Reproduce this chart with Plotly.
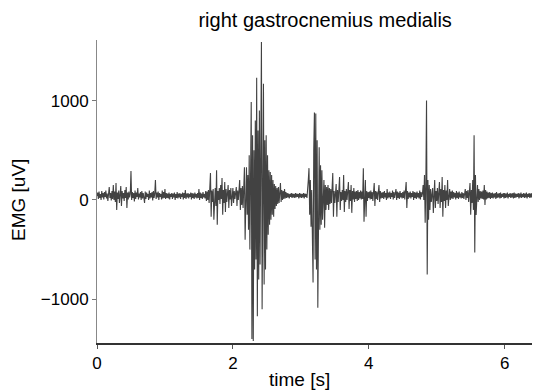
import plotly.graph_objects as go

# EMG samples (uV), one value every 0.01 s
sample_step_s = 0.01

emg_0s = [
    40, 75, 10, 85, 20, 60, 0, 90, 25, 70,
    5, 80, 30, 95, 15, 65, -10, 80, 130, 20,
    70, -5, 90, 10, 150, 0, 85, -20, 170, -100,
    75, 10, 95, -30, 80, 140, -60, 90, 15, 70,
    -10, 100, 20, 130, -80, 75, 5, 85, 25, 60,
    290, 0, 80, 20, 70, -15, 95, 10, 75, 30,
    120, 5, 65, 25, 80, 0, 90, 15, 70, 20,
    -30, 85, 10, 75, 30, 60, 0, 95, 15, 70,
    25, 80, -5, 90, 20, 65, 200, 10, 75, 25,
    85, 0, 70, 30, 60, 5, 95, 15, 80, 20,
]
emg_1s = [
    110, 10, 70, 20, 65, 15, 75, 5, 60, 30,
    70, 10, 65, 25, 75, 0, 60, 20, 80, 15,
    65, 25, 70, 10, 60, 30, 75, 5, 70, 20,
    100, 10, 65, 25, 70, 15, 60, 30, 75, 5,
    70, 20, 65, 10, 75, 25, 60, 15, 70, 20,
    110, 0, 75, 20, 65, 10, 80, 25, 60, 15,
    90, -10, 85, 0, 100, -30, 80, 270, -170, 95,
    -20, 110, -200, 60, 120, -60, 300, -250, 90, 0,
    120, -40, 150, 10, 220, -150, 100, -30, 180, -120,
    110, -20, 90, 150, -80, 100, 5, 120, -60, 95,
]
emg_2s = [
    120, -30, 90, 10, 110, 130, -60, 95, 0, 100,
    200, -100, 120, -50, 140, -80, 160, 330, -400, 200,
    330, -150, 250, -300, 450, -500, 600, 985, -1400, 650,
    -1420, 500, -700, 800, -600, 1230, -1170, 700, -800, 900,
    -650, 750, 1590, -1100, 800, 1170, -850, 600, -700, 650,
    -500, 450, -350, 300, -250, 280, -200, 250, -150, 200,
    -170, 160, -90, 140, -60, 120, -40, 130, -30, 110,
    170, -20, 100, 0, 90, 10, 110, 15, 80, 20,
    70, 25, 65, 15, 60, 30, 70, 20, 65, 25,
    60, 20, 70, 25, 65, 30, 60, 15, 70, 25,
]
emg_3s = [
    65, 20, 60, 25, 70, 15, 65, 30, 60, 20,
    90, 200, 320, -150, 200, -270, 100, -300, -830, 500,
    880, -600, 870, -700, 600, -1085, 400, 530, -300, 350,
    -250, 300, -200, 180, 200, -280, 150, -100, 130, -50,
    150, -100, 120, -40, 110, -30, 100, 270, -170, 90,
    -30, 110, 160, -170, 100, -20, 90, 230, -100, 80,
    -10, 100, 0, 250, -120, 90, -20, 110, 0, 85,
    180, -90, 100, -10, 150, -130, 90, 5, 120, -20,
    85, 10, 90, -10, 100, 0, 80, 15, 95, 5,
    85, 10, 320, -220, 100, 200, -170, 90, -10, 80,
]
emg_4s = [
    20, 85, 5, 95, 10, 80, -10, 100, 170, -60,
    90, 10, 85, 0, 95, 150, -20, 90, 15, 75,
    20, 80, 10, 90, 25, 70, 0, 110, 15, 75,
    25, 85, 10, 70, 30, 95, 5, 80, 20, 65,
    110, 0, 85, 20, 75, 10, 90, 25, 70, 15,
    80, 20, 95, 5, 85, 180, -80, 90, 10, 75,
    25, 85, 15, 70, 30, 90, 0, 80, 20, 75,
    10, 85, 25, 70, 15, 95, 5, 80, 30, 65,
    150, 0, 250, -230, 150, 1000, -750, 200, -200, 150,
    -100, 110, -20, 90, 120, -130, 100, 200, -80, 90,
]
emg_5s = [
    -10, 120, -40, 100, 180, -80, 110, -20, 230, -170,
    100, -10, 150, -80, 95, 0, 200, -60, 90, 110,
    0, 85, 15, 95, 10, 80, 25, 70, 5, 90,
    20, 75, 10, 85, 25, 65, 15, 80, 20, 70,
    10, 85, 110, 0, 90, 20, 100, -20, 110, 170,
    -150, 100, -30, 200, -100, 650, -530, 250, -150, 100,
    150, -20, 110, 0, 90, 15, 85, 10, 95, 5,
    150, -50, 100, 5, 85, 15, 75, 20, 80, 10,
    70, 20, 75, 15, 65, 25, 70, 10, 80, 20,
    65, 25, 70, 15, 75, 20, 60, 30, 70, 15,
]
emg_6s = [
    70, 20, 65, 25, 75, 15, 60, 30, 70, 20,
    65, 25, 70, 15, 75, 20, 65, 25, 60, 30,
    70, 15, 65, 25, 75, 20, 60, 30, 70, 20,
    65, 25, 75, 15, 60, 30, 70, 20, 65, 25,
    70, 15, 75, 20, 60, 30, 65, 25, 70, 20,
    65, 25, 70, 15, 75, 20,
]

x_tick_values = [0, 2, 4, 6]
y_tick_values = [-1000, 0, 1000]
y_tick_labels = ["\u22121000", "0", "1000"]

emg = emg_0s + emg_1s + emg_2s + emg_3s + emg_4s + emg_5s + emg_6s
time_s = [k * sample_step_s for k in range(len(emg))]

FONT = "Liberation Sans, Arial, Helvetica, sans-serif"

fig = go.Figure()
fig.add_trace(go.Scatter(
    x=time_s, y=emg, mode="lines",
    line=dict(color="#424242", width=1.1),
    hoverinfo="skip", showlegend=False,
))

fig.update_layout(
    width=540, height=391,
    margin=dict(l=89, r=8, t=32, b=56, autoexpand=False),
    paper_bgcolor="white", plot_bgcolor="white",
    font=dict(family=FONT, size=17, color="black"),
    title=dict(text="right gastrocnemius medialis", x=0.515, xref="paper",
               xanchor="center", y=1 - 12 / 391, yanchor="middle",
               font=dict(family=FONT, size=20, color="black")),
    xaxis=dict(
        range=[0, 6.52], tickvals=x_tick_values, ticks="outside", ticklen=4,
        tickcolor="#555", showline=True, linecolor="#333", linewidth=2,
        showgrid=False, zeroline=False, automargin=False,
        tickfont=dict(size=17),
    ),
    yaxis=dict(
        range=[-1440, 1610], tickvals=y_tick_values, ticktext=y_tick_labels,
        ticks="outside", ticklen=4, tickcolor="#777",
        showline=True, linecolor="#888", linewidth=1,
        showgrid=False, zeroline=False, automargin=False,
        tickfont=dict(size=17),
    ),
    annotations=[
        dict(text="time [s]", xref="paper", yref="paper", x=0.458, y=-0.122,
             xanchor="center", yanchor="middle", showarrow=False,
             font=dict(family=FONT, size=19, color="black")),
        dict(text="EMG [uV]", xref="paper", yref="paper", x=-0.176, y=0.472,
             xanchor="center", yanchor="middle", textangle=-90, showarrow=False,
             font=dict(family=FONT, size=19, color="black")),
    ],
)

fig.write_html("out.html")
